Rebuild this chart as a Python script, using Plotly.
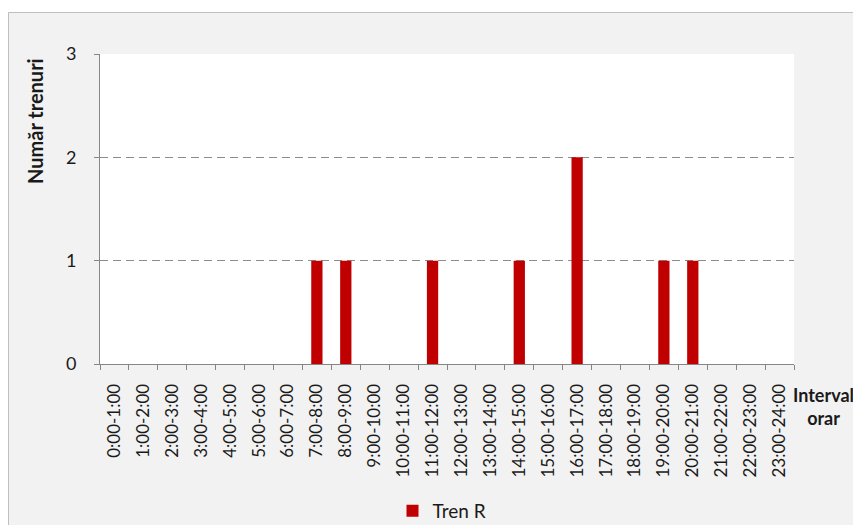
import plotly.graph_objects as go

categories = ["0:00-1:00", "1:00-2:00", "2:00-3:00", "3:00-4:00", "4:00-5:00", "5:00-6:00",
              "6:00-7:00", "7:00-8:00", "8:00-9:00", "9:00-10:00", "10:00-11:00", "11:00-12:00",
              "12:00-13:00", "13:00-14:00", "14:00-15:00", "15:00-16:00", "16:00-17:00",
              "17:00-18:00", "18:00-19:00", "19:00-20:00", "20:00-21:00", "21:00-22:00",
              "22:00-23:00", "23:00-24:00"]
tren_r = [0, 0, 0, 0, 0, 0, 0, 1, 1, 0, 0, 1, 0, 0, 1, 0, 2, 0, 0, 1, 1, 0, 0, 0]
y_ticks = [0, 1, 2, 3]

W, H = 861, 525
OFF = 8  # page body margin
L, T = 100 - OFF, 54 - OFF
R = W - (794 - OFF)
B = H - (364 - OFF)
pw, ph = W - L - R, H - T - B

def px_x(sx):
    return (sx - OFF - L) / pw

def px_y(sy):
    return (H - B - (sy - OFF)) / ph

FONT = "Lato, Open Sans, sans-serif"
TXT = "#1a1a1a"

fig = go.Figure()
fig.add_trace(go.Bar(x=categories, y=tren_r, name="Tren R", marker_color="#c00000",
                     marker_line_width=0))

fig.update_layout(
    width=W, height=H,
    margin=dict(l=L, r=R, t=T, b=B, autoexpand=False),
    paper_bgcolor="#f2f2f2",
    plot_bgcolor="white",
    font=dict(family=FONT, color=TXT),
    bargap=0.61,
    showlegend=True,
    legend=dict(orientation="h", x=px_x(442), xanchor="center", y=px_y(511), yanchor="middle",
                font=dict(size=19), bgcolor="rgba(0,0,0,0)", itemwidth=30),
    xaxis=dict(type="category", showline=True, linecolor="#868686", linewidth=1,
               ticks="outside", tickson="boundaries", ticklen=5, tickcolor="#868686",
               tickangle=-90, tickfont=dict(size=17), showgrid=False,
               ticklabelstandoff=12),
    yaxis=dict(range=[0, 3], tickvals=y_ticks, showline=True, linecolor="#868686", linewidth=1,
               ticks="outside", ticklen=5, tickcolor="#868686", tickfont=dict(size=18),
               showgrid=True, gridcolor="#8c8c8c", griddash="8px,5px", gridwidth=1.2,
               zeroline=False, ticklabelstandoff=14),
    shapes=[
        dict(type="rect", xref="paper", yref="paper", x0=px_x(-20), x1=px_x(W + 20),
             y0=px_y(12), y1=px_y(-20), fillcolor="white", line_width=0, layer="below"),
        dict(type="rect", xref="paper", yref="paper", x0=px_x(8.5), x1=px_x(W + 20),
             y0=px_y(H + 20), y1=px_y(12.5), fillcolor="rgba(0,0,0,0)",
             line=dict(color="#bfbfbf", width=1), layer="below"),
    ],
    annotations=[
        dict(text="<b>Număr trenuri</b>", xref="paper", yref="paper", x=px_x(35), y=px_y(121),
             textangle=-90, showarrow=False, font=dict(size=20, color=TXT),
             xanchor="center", yanchor="middle"),
        dict(text="<b>Interval<br>orar</b>", xref="paper", yref="paper", x=px_x(823), y=px_y(406),
             showarrow=False, font=dict(size=18, color=TXT), align="center",
             xanchor="center", yanchor="middle"),
    ],
)

fig.write_html("out.html")
